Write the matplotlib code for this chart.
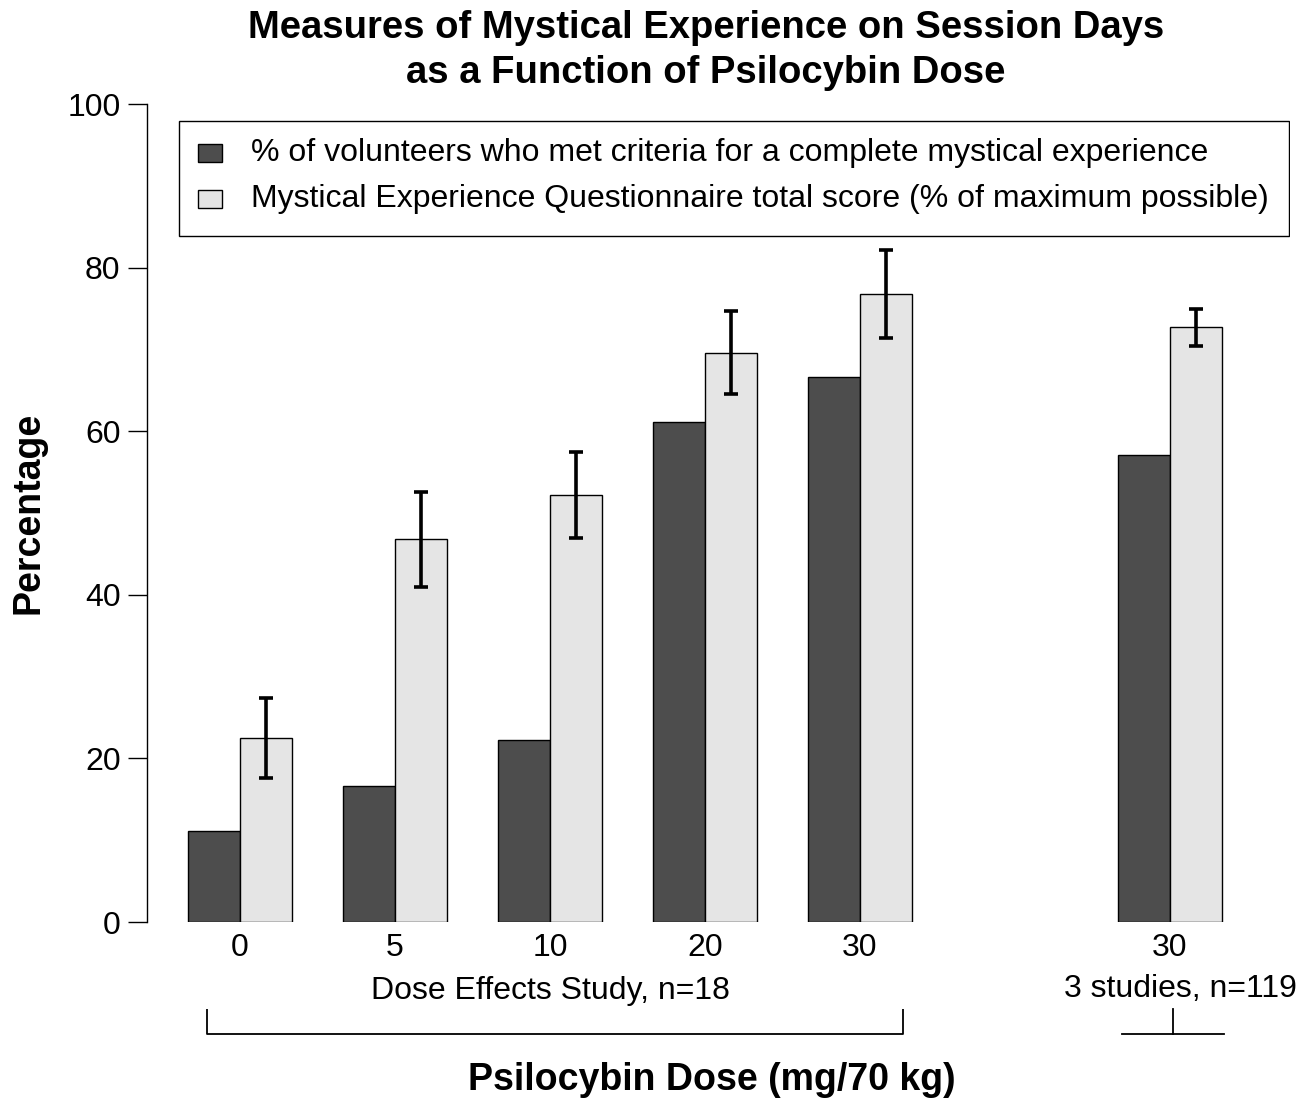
import matplotlib
matplotlib.use("Agg")
import matplotlib.pyplot as plt
from matplotlib.patches import Rectangle
import numpy as np

# ---- data ----
dose_labels = ["0", "5", "10", "20", "30", "30"]
pct_complete = [11.1, 16.6, 22.2, 61.1, 66.6, 57.1]
meq_score = [22.5, 46.8, 52.2, 69.6, 76.8, 72.7]
meq_err = [4.9, 5.8, 5.3, 5.1, 5.4, 2.3]
legend_labels = ["% of volunteers who met criteria for a complete mystical experience",
                 "Mystical Experience Questionnaire total score (% of maximum possible)"]
yticks = [0, 20, 40, 60, 80, 100]

DARK = "#4d4d4d"
LIGHT = "#e5e5e5"
REG = ["Liberation Sans", "DejaVu Sans"]

W, H = 1314, 1100
fig = plt.figure(figsize=(W / 100, H / 100), dpi=100)

# axes in pixel geometry
px_left, px_right = 147, 1290
px_top, px_bot = 104, 922
ax = fig.add_axes([px_left / W, 1 - px_bot / H, (px_right - px_left) / W, (px_bot - px_top) / H])

unit = 155 / 3.0  # pixels per bar width
x0 = (px_left - 240) / unit
x1 = (px_right - 240) / unit
ax.set_xlim(x0, x1)
ax.set_ylim(0, 100)

centers = np.array([0, 3, 6, 9, 12, 18], dtype=float)
ax.bar(centers - 0.5, pct_complete, width=1.0, color=DARK, edgecolor="black", linewidth=1.0, zorder=2)
ax.bar(centers + 0.5, meq_score, width=1.0, color=LIGHT, edgecolor="black", linewidth=1.0, zorder=2)
ax.errorbar(centers + 0.5, meq_score, yerr=meq_err, fmt="none", ecolor="black",
            elinewidth=2.6, capsize=5.2, capthick=2.6, zorder=3)

# spines / ticks
for s in ["top", "right", "bottom"]:
    ax.spines[s].set_visible(False)
ax.spines["left"].set_linewidth(1.0)
ax.set_yticks(yticks)
ax.set_yticklabels([str(v) for v in yticks], fontsize=23, family=REG)
ax.tick_params(axis="y", length=14, width=1.0, pad=5)
ax.set_xticks([])

# x tick labels
for c, lab in zip(centers, dose_labels):
    ax.text(c, -3.2, lab, ha="center", va="center", fontsize=23, family=REG, clip_on=False)

ax.text(6, -8.4, "Dose Effects Study, n=18", ha="center", va="center", fontsize=23,
        family=REG, clip_on=False)
ax.text(18.2, -8.2, "3 studies, n=119", ha="center", va="center", fontsize=23,
        family=REG, clip_on=False)

# brackets
def px2x(p):
    return (p - 240) / unit

def py2y(p):
    return (px_bot - p) / ((px_bot - px_top) / 100)

yb = py2y(1034)
yt = py2y(1009)
ax.plot([px2x(207), px2x(207), px2x(903), px2x(903)], [yt, yb, yb, yt], color="black",
        lw=1.3, clip_on=False, solid_capstyle="butt")
ax.plot([px2x(1122), px2x(1224)], [yb, yb], color="black", lw=1.3, clip_on=False)
ax.plot([18 + 0.05, 18 + 0.05], [yb, yt], color="black", lw=1.3, clip_on=False)

# legend (drawn manually)
lx0, lx1 = px2x(179), px2x(1289)
ly0, ly1 = py2y(236), py2y(121)
ax.add_patch(Rectangle((lx0, ly0), lx1 - lx0, ly1 - ly0, facecolor="white", edgecolor="black",
                       lw=1.0, zorder=4))
for i, (col, lab) in enumerate(zip([DARK, LIGHT], legend_labels)):
    yc = py2y(153 + 46 * i)
    sw = 24 / unit
    sh = 18 / ((px_bot - px_top) / 100)
    ax.add_patch(Rectangle((px2x(198), yc - sh / 2), sw, sh, facecolor=col, edgecolor="black",
                           lw=1.0, zorder=5))
    ax.text(px2x(251), yc, lab, ha="left", va="center", fontsize=23, family=REG, zorder=5)

# labels / title
fig.text(29 / W, 1 - 513 / H, "Percentage", rotation=90, ha="center", va="center",
         fontsize=27, fontweight="bold", family=REG)
fig.text(712 / W, 1 - 1080 / H, "Psilocybin Dose (mg/70 kg)", ha="center", va="center",
         fontsize=27, fontweight="bold", family=REG)
fig.text(706 / W, 1 - 28 / H, "Measures of Mystical Experience on Session Days", ha="center",
         va="center", fontsize=27.5, fontweight="bold", family=REG)
fig.text(706 / W, 1 - 73 / H, "as a Function of Psilocybin Dose", ha="center",
         va="center", fontsize=27.5, fontweight="bold", family=REG)

fig.savefig("out.png", dpi=100, facecolor="white")
